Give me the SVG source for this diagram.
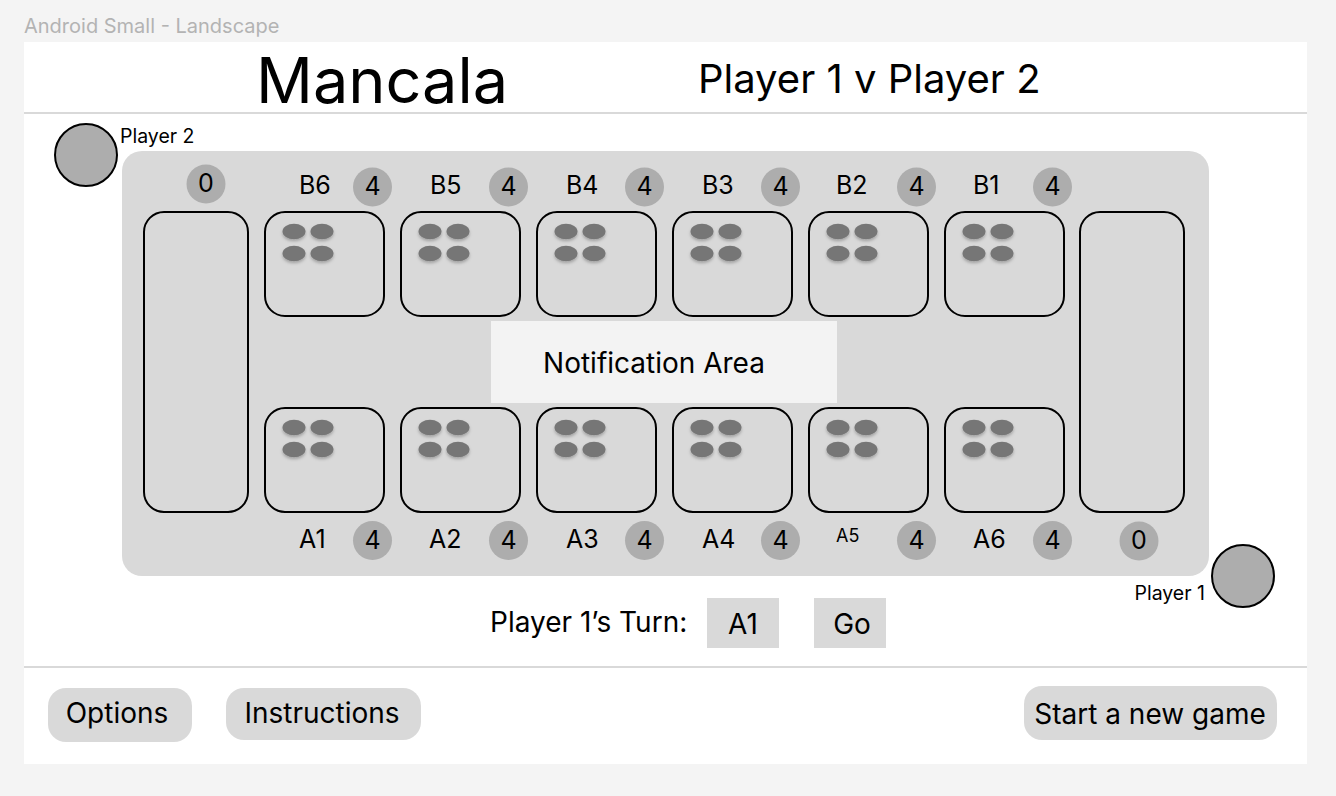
<svg xmlns="http://www.w3.org/2000/svg" xmlns:xlink="http://www.w3.org/1999/xlink" width="1336" height="796" viewBox="0 0 1336 796">
<style>
text{font-family:Inter,"Noto Sans","Liberation Sans",sans-serif;fill:#000}
.pit{fill:none;stroke:#000;stroke-width:2}
.cnt{fill:#adadad}
.lbl{font-size:25px}
.num{font-size:25px;text-anchor:middle}
.btn{fill:#d9d9d9}
.t28{font-size:28px}
.div{stroke:#d9d9d9;stroke-width:2}
.player{fill:#adadad;stroke:#000;stroke-width:2}
.stone{fill:#767676}
</style>
<defs>
<filter id="sh" x="-50%" y="-50%" width="200%" height="200%">
<feDropShadow dx="0" dy="2" stdDeviation="1.5" flood-color="#000" flood-opacity="0.25"/>
</filter>
<g id="stones" filter="url(#sh)">
<ellipse class="stone" cx="29" cy="19.5" rx="11.5" ry="7.8"/>
<ellipse class="stone" cx="57" cy="19.5" rx="11.5" ry="7.8"/>
<ellipse class="stone" cx="29" cy="41.5" rx="11.5" ry="7.8"/>
<ellipse class="stone" cx="57" cy="41.5" rx="11.5" ry="7.8"/>
</g>
</defs>
<rect x="0" y="0" width="1336" height="796" fill="#f4f4f4"/>
<text x="24" y="33" font-size="20" style="fill:#b3b3b3">Android Small - Landscape</text>
<rect x="24" y="42" width="1283" height="722" fill="#fff"/>

<g id="header">
<text x="256" y="103" font-size="63">Mancala</text>
<text x="698" y="93" font-size="40">Player 1 v Player 2</text>
<line class="div" x1="24" y1="113" x2="1307" y2="113"/>
</g>

<g id="board">
<rect x="122" y="151" width="1087" height="425" rx="20" fill="#d9d9d9"/>
</g>

<g id="player2">
<circle class="player" cx="86" cy="155" r="31"/>
<text x="120" y="143" font-size="19.5">Player 2</text>
</g>
<g id="player1">
<circle class="player" cx="1243" cy="576" r="31"/>
<text x="1205" y="600" font-size="19.5" text-anchor="end">Player 1</text>
</g>

<g id="store-left">
<rect class="pit" x="144" y="212" width="104" height="300" rx="20"/>
<circle class="cnt" cx="206" cy="184" r="19.5"/>
<text class="num" x="206" y="192">0</text>
</g>
<g id="store-right">
<rect class="pit" x="1080" y="212" width="104" height="300" rx="20"/>
<circle class="cnt" cx="1139" cy="541" r="19.5"/>
<text class="num" x="1139" y="549">0</text>
</g>

<g id="pit-B6">
<rect class="pit" x="265" y="212" width="119" height="104" rx="20"/>
<use href="#stones" x="265" y="212"/>
<text class="lbl" x="299" y="194">B6</text>
<circle class="cnt" cx="372.5" cy="187" r="19.5"/>
<text class="num" x="372.5" y="195">4</text>
</g>
<g id="pit-B5">
<rect class="pit" x="401" y="212" width="119" height="104" rx="20"/>
<use href="#stones" x="401" y="212"/>
<text class="lbl" x="430" y="194">B5</text>
<circle class="cnt" cx="508.5" cy="187" r="19.5"/>
<text class="num" x="508.5" y="195">4</text>
</g>
<g id="pit-B4">
<rect class="pit" x="537" y="212" width="119" height="104" rx="20"/>
<use href="#stones" x="537" y="212"/>
<text class="lbl" x="566" y="194">B4</text>
<circle class="cnt" cx="644.5" cy="187" r="19.5"/>
<text class="num" x="644.5" y="195">4</text>
</g>
<g id="pit-B3">
<rect class="pit" x="673" y="212" width="119" height="104" rx="20"/>
<use href="#stones" x="673" y="212"/>
<text class="lbl" x="702" y="194">B3</text>
<circle class="cnt" cx="780.5" cy="187" r="19.5"/>
<text class="num" x="780.5" y="195">4</text>
</g>
<g id="pit-B2">
<rect class="pit" x="809" y="212" width="119" height="104" rx="20"/>
<use href="#stones" x="809" y="212"/>
<text class="lbl" x="836" y="194">B2</text>
<circle class="cnt" cx="916.5" cy="187" r="19.5"/>
<text class="num" x="916.5" y="195">4</text>
</g>
<g id="pit-B1">
<rect class="pit" x="945" y="212" width="119" height="104" rx="20"/>
<use href="#stones" x="945" y="212"/>
<text class="lbl" x="973" y="194">B1</text>
<circle class="cnt" cx="1052.5" cy="187" r="19.5"/>
<text class="num" x="1052.5" y="195">4</text>
</g>

<g id="notification">
<rect x="491" y="321" width="346" height="82" fill="#f3f3f3"/>
<text class="t28" x="654" y="373" text-anchor="middle">Notification Area</text>
</g>

<g id="pit-A1">
<rect class="pit" x="265" y="408" width="119" height="104" rx="20"/>
<use href="#stones" x="265" y="408"/>
<text class="lbl" x="299" y="548">A1</text>
<circle class="cnt" cx="372.5" cy="540.5" r="19.5"/>
<text class="num" x="372.5" y="548.5">4</text>
</g>
<g id="pit-A2">
<rect class="pit" x="401" y="408" width="119" height="104" rx="20"/>
<use href="#stones" x="401" y="408"/>
<text class="lbl" x="429" y="548">A2</text>
<circle class="cnt" cx="508.5" cy="540.5" r="19.5"/>
<text class="num" x="508.5" y="548.5">4</text>
</g>
<g id="pit-A3">
<rect class="pit" x="537" y="408" width="119" height="104" rx="20"/>
<use href="#stones" x="537" y="408"/>
<text class="lbl" x="566" y="548">A3</text>
<circle class="cnt" cx="644.5" cy="540.5" r="19.5"/>
<text class="num" x="644.5" y="548.5">4</text>
</g>
<g id="pit-A4">
<rect class="pit" x="673" y="408" width="119" height="104" rx="20"/>
<use href="#stones" x="673" y="408"/>
<text class="lbl" x="702" y="548">A4</text>
<circle class="cnt" cx="780.5" cy="540.5" r="19.5"/>
<text class="num" x="780.5" y="548.5">4</text>
</g>
<g id="pit-A5">
<rect class="pit" x="809" y="408" width="119" height="104" rx="20"/>
<use href="#stones" x="809" y="408"/>
<text x="836" y="542" font-size="18">A5</text>
<circle class="cnt" cx="916.5" cy="540.5" r="19.5"/>
<text class="num" x="916.5" y="548.5">4</text>
</g>
<g id="pit-A6">
<rect class="pit" x="945" y="408" width="119" height="104" rx="20"/>
<use href="#stones" x="945" y="408"/>
<text class="lbl" x="973" y="548">A6</text>
<circle class="cnt" cx="1052.5" cy="540.5" r="19.5"/>
<text class="num" x="1052.5" y="548.5">4</text>
</g>

<g id="turn">
<text class="t28" x="490" y="632">Player 1’s Turn:</text>
<rect class="btn" x="707" y="598" width="72" height="50"/>
<text class="t28" x="743" y="634" text-anchor="middle">A1</text>
<rect class="btn" x="814" y="598" width="72" height="50"/>
<text class="t28" x="852" y="634" text-anchor="middle">Go</text>
</g>

<line class="div" x1="24" y1="667" x2="1307" y2="667"/>

<g id="btn-options">
<rect class="btn" x="48" y="688" width="144" height="54" rx="18"/>
<text class="t28" x="117" y="723" text-anchor="middle">Options</text>
</g>
<g id="btn-instructions">
<rect class="btn" x="226" y="688" width="195" height="52" rx="18"/>
<text class="t28" x="322" y="723" text-anchor="middle">Instructions</text>
</g>
<g id="btn-new-game">
<rect class="btn" x="1024" y="686" width="253" height="54" rx="18"/>
<text class="t28" x="1150" y="724" text-anchor="middle">Start a new game</text>
</g>
</svg>
